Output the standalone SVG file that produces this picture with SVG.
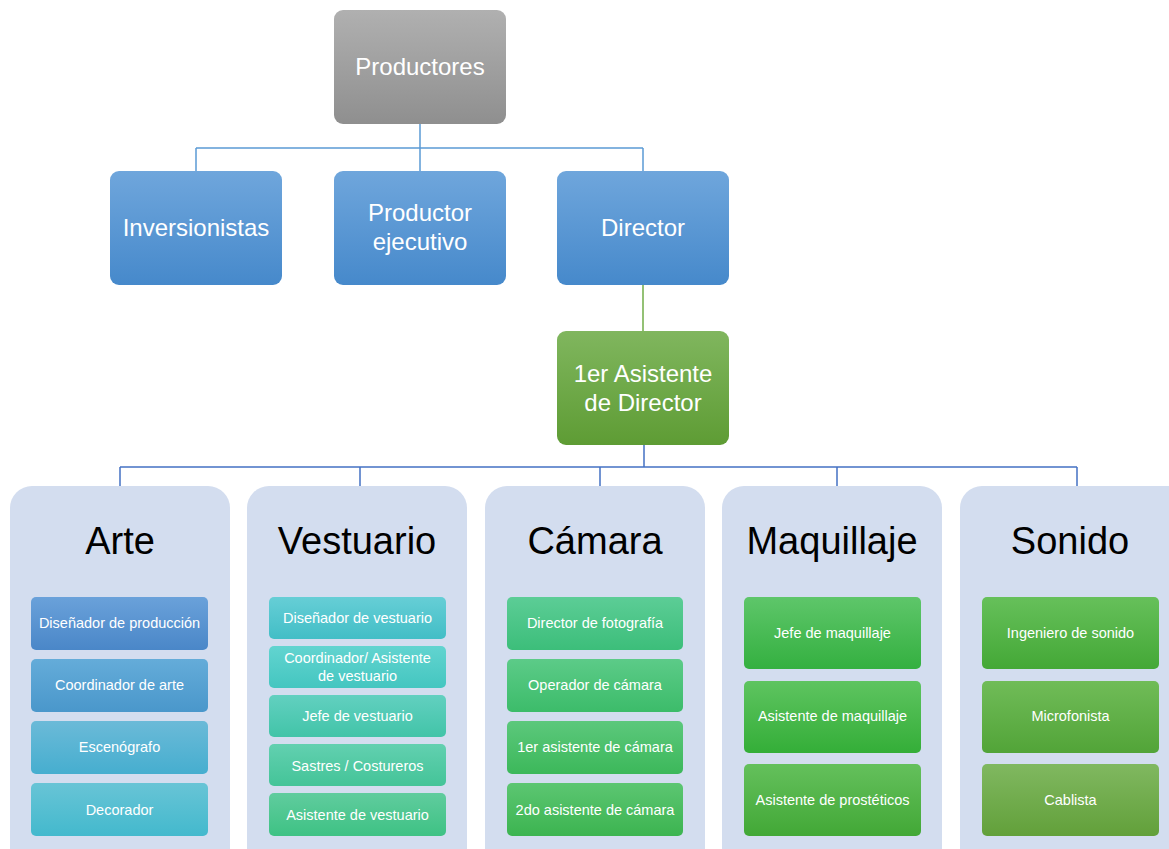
<svg xmlns="http://www.w3.org/2000/svg" width="1169" height="849" viewBox="0 0 1169 849">
<style>
.t{font-family:"Liberation Sans",Arial,sans-serif;fill:#ffffff;text-anchor:middle}
.big{font-size:24px}
.sm{font-size:14.5px}
.ttl{font-family:"Liberation Sans",Arial,sans-serif;fill:#000000;text-anchor:middle;font-size:38px}
.cont{fill:#d3ddef}
.c1{stroke:#5b9bd5;stroke-width:1.5;fill:none}
.c2{stroke:#4472c4;stroke-width:1.5;fill:none}
.c3{stroke:#70ad47;stroke-width:1.5;fill:none}
</style>
<defs>
<linearGradient id="gGray" x1="0" y1="0" x2="0" y2="1"><stop offset="0" stop-color="#b0b0b0"/><stop offset="1" stop-color="#8f8f8f"/></linearGradient>
<linearGradient id="gBlue" x1="0" y1="0" x2="0" y2="1"><stop offset="0" stop-color="#6fa6dc"/><stop offset="1" stop-color="#4689cb"/></linearGradient>
<linearGradient id="gGreen" x1="0" y1="0" x2="0" y2="1"><stop offset="0" stop-color="#80b65e"/><stop offset="1" stop-color="#5e9c34"/></linearGradient>
<linearGradient id="a1" x1="0" y1="0" x2="0" y2="1"><stop offset="0" stop-color="#6aa1da"/><stop offset="1" stop-color="#4a87c8"/></linearGradient>
<linearGradient id="a2" x1="0" y1="0" x2="0" y2="1"><stop offset="0" stop-color="#64acd9"/><stop offset="1" stop-color="#4a97cb"/></linearGradient>
<linearGradient id="a3" x1="0" y1="0" x2="0" y2="1"><stop offset="0" stop-color="#6bbad8"/><stop offset="1" stop-color="#46aecf"/></linearGradient>
<linearGradient id="a4" x1="0" y1="0" x2="0" y2="1"><stop offset="0" stop-color="#68c4d6"/><stop offset="1" stop-color="#43b9cd"/></linearGradient>
<linearGradient id="v1" x1="0" y1="0" x2="0" y2="1"><stop offset="0" stop-color="#66ced6"/><stop offset="1" stop-color="#42bec6"/></linearGradient>
<linearGradient id="v2" x1="0" y1="0" x2="0" y2="1"><stop offset="0" stop-color="#62d4d0"/><stop offset="1" stop-color="#44c6c0"/></linearGradient>
<linearGradient id="v3" x1="0" y1="0" x2="0" y2="1"><stop offset="0" stop-color="#62d0c0"/><stop offset="1" stop-color="#42c4a8"/></linearGradient>
<linearGradient id="v4" x1="0" y1="0" x2="0" y2="1"><stop offset="0" stop-color="#62d0b0"/><stop offset="1" stop-color="#44c498"/></linearGradient>
<linearGradient id="v5" x1="0" y1="0" x2="0" y2="1"><stop offset="0" stop-color="#60cc9e"/><stop offset="1" stop-color="#3ec284"/></linearGradient>
<linearGradient id="k1" x1="0" y1="0" x2="0" y2="1"><stop offset="0" stop-color="#5ccd96"/><stop offset="1" stop-color="#3cbe7a"/></linearGradient>
<linearGradient id="k2" x1="0" y1="0" x2="0" y2="1"><stop offset="0" stop-color="#5ccb88"/><stop offset="1" stop-color="#3cbc6a"/></linearGradient>
<linearGradient id="k3" x1="0" y1="0" x2="0" y2="1"><stop offset="0" stop-color="#5cc87c"/><stop offset="1" stop-color="#3cb85a"/></linearGradient>
<linearGradient id="k4" x1="0" y1="0" x2="0" y2="1"><stop offset="0" stop-color="#5cc672"/><stop offset="1" stop-color="#3cb450"/></linearGradient>
<linearGradient id="m1" x1="0" y1="0" x2="0" y2="1"><stop offset="0" stop-color="#5ec66a"/><stop offset="1" stop-color="#34b040"/></linearGradient>
<linearGradient id="m2" x1="0" y1="0" x2="0" y2="1"><stop offset="0" stop-color="#5ec460"/><stop offset="1" stop-color="#34ae38"/></linearGradient>
<linearGradient id="m3" x1="0" y1="0" x2="0" y2="1"><stop offset="0" stop-color="#64c05c"/><stop offset="1" stop-color="#42a836"/></linearGradient>
<linearGradient id="s1" x1="0" y1="0" x2="0" y2="1"><stop offset="0" stop-color="#66c05a"/><stop offset="1" stop-color="#44a836"/></linearGradient>
<linearGradient id="s2" x1="0" y1="0" x2="0" y2="1"><stop offset="0" stop-color="#70bc58"/><stop offset="1" stop-color="#52a438"/></linearGradient>
<linearGradient id="s3" x1="0" y1="0" x2="0" y2="1"><stop offset="0" stop-color="#80b860"/><stop offset="1" stop-color="#62a03a"/></linearGradient>
</defs>

<g id="connectors">
<path class="c1" d="M420 124 V148 M196 148 H643 M196 148 V171 M420 148 V171 M643 148 V171"/>
<path class="c3" d="M643 285 V331"/>
<path class="c2" d="M644 445 V467 M120 467 H1077 M120 467 V486 M360 467 V486 M600 467 V486 M837 467 V486 M1077 467 V486"/>
</g>

<g id="productores"><rect x="334" y="10" width="172" height="114" rx="9" fill="url(#gGray)"/><text class="t big" x="420" y="75">Productores</text></g>
<g id="inversionistas"><rect x="110" y="171" width="172" height="114" rx="9" fill="url(#gBlue)"/><text class="t big" x="196" y="236">Inversionistas</text></g>
<g id="productor-ejecutivo"><rect x="334" y="171" width="172" height="114" rx="9" fill="url(#gBlue)"/><text class="t big" x="420" y="221">Productor</text><text class="t big" x="420" y="250">ejecutivo</text></g>
<g id="director"><rect x="557" y="171" width="172" height="114" rx="9" fill="url(#gBlue)"/><text class="t big" x="643" y="236">Director</text></g>
<g id="asistente-director"><rect x="557" y="331" width="172" height="114" rx="9" fill="url(#gGreen)"/><text class="t big" x="643" y="382">1er Asistente</text><text class="t big" x="643" y="411">de Director</text></g>

<g id="arte">
<rect class="cont" x="10" y="486" width="220" height="390" rx="22"/>
<text class="ttl" x="120" y="554">Arte</text>
<rect x="31" y="597" width="177" height="53" rx="5" fill="url(#a1)"/><text class="t sm" x="119.5" y="628">Diseñador de producción</text>
<rect x="31" y="659" width="177" height="53" rx="5" fill="url(#a2)"/><text class="t sm" x="119.5" y="690">Coordinador de arte</text>
<rect x="31" y="721" width="177" height="53" rx="5" fill="url(#a3)"/><text class="t sm" x="119.5" y="752">Escenógrafo</text>
<rect x="31" y="783" width="177" height="53" rx="5" fill="url(#a4)"/><text class="t sm" x="119.5" y="815">Decorador</text>
</g>

<g id="vestuario">
<rect class="cont" x="247" y="486" width="220" height="390" rx="22"/>
<text class="ttl" x="357" y="554">Vestuario</text>
<rect x="269" y="597" width="177" height="42" rx="5" fill="url(#v1)"/><text class="t sm" x="357.5" y="623">Diseñador de vestuario</text>
<rect x="269" y="646" width="177" height="42" rx="5" fill="url(#v2)"/><text class="t sm" x="357.5" y="663">Coordinador/ Asistente</text><text class="t sm" x="357.5" y="681">de vestuario</text>
<rect x="269" y="695" width="177" height="42" rx="5" fill="url(#v3)"/><text class="t sm" x="357.5" y="721">Jefe de vestuario</text>
<rect x="269" y="744" width="177" height="42" rx="5" fill="url(#v4)"/><text class="t sm" x="357.5" y="771">Sastres / Costureros</text>
<rect x="269" y="793" width="177" height="43" rx="5" fill="url(#v5)"/><text class="t sm" x="357.5" y="820">Asistente de vestuario</text>
</g>

<g id="camara">
<rect class="cont" x="485" y="486" width="220" height="390" rx="22"/>
<text class="ttl" x="595" y="554">Cámara</text>
<rect x="507" y="597" width="176" height="53" rx="5" fill="url(#k1)"/><text class="t sm" x="595" y="628">Director de fotografía</text>
<rect x="507" y="659" width="176" height="53" rx="5" fill="url(#k2)"/><text class="t sm" x="595" y="690">Operador de cámara</text>
<rect x="507" y="721" width="176" height="53" rx="5" fill="url(#k3)"/><text class="t sm" x="595" y="752">1er asistente de cámara</text>
<rect x="507" y="783" width="176" height="53" rx="5" fill="url(#k4)"/><text class="t sm" x="595" y="815">2do asistente de cámara</text>
</g>

<g id="maquillaje">
<rect class="cont" x="722" y="486" width="220" height="390" rx="22"/>
<text class="ttl" x="832" y="554">Maquillaje</text>
<rect x="744" y="597" width="177" height="72" rx="5" fill="url(#m1)"/><text class="t sm" x="832.5" y="638">Jefe de maquillaje</text>
<rect x="744" y="681" width="177" height="72" rx="5" fill="url(#m2)"/><text class="t sm" x="832.5" y="721">Asistente de maquillaje</text>
<rect x="744" y="764" width="177" height="72" rx="5" fill="url(#m3)"/><text class="t sm" x="832.5" y="805">Asistente de prostéticos</text>
</g>

<g id="sonido">
<rect class="cont" x="960" y="486" width="230" height="390" rx="22"/>
<text class="ttl" x="1070" y="554">Sonido</text>
<rect x="982" y="597" width="177" height="72" rx="5" fill="url(#s1)"/><text class="t sm" x="1070.5" y="638">Ingeniero de sonido</text>
<rect x="982" y="681" width="177" height="72" rx="5" fill="url(#s2)"/><text class="t sm" x="1070.5" y="721">Microfonista</text>
<rect x="982" y="764" width="177" height="72" rx="5" fill="url(#s3)"/><text class="t sm" x="1070.5" y="805">Cablista</text>
</g>
</svg>
